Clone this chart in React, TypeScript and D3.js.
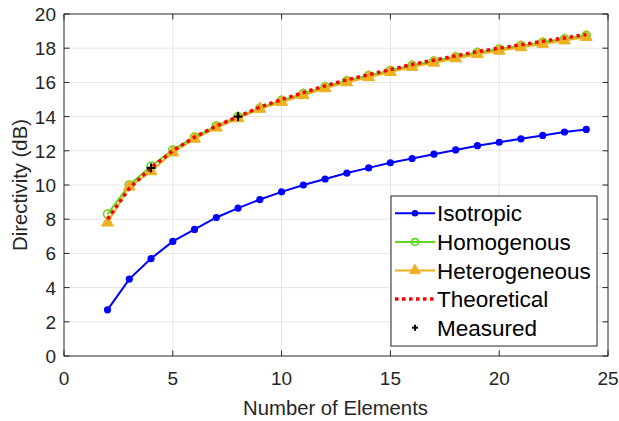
import React from "react";
import * as d3 from "d3";

// Number of array elements
const elements = [2, 3, 4, 5, 6, 7, 8, 9, 10, 11, 12, 13, 14, 15, 16, 17, 18, 19, 20, 21, 22, 23, 24];

// Directivity (dB) per configuration
const isotropic = [2.7, 4.5, 5.7, 6.7, 7.4, 8.1, 8.65, 9.15, 9.6, 10.0, 10.35, 10.7, 11.0, 11.3, 11.55, 11.8, 12.05, 12.3, 12.5, 12.7, 12.9, 13.1, 13.25];
const homogenous = [8.3, 10.0, 11.1, 12.05, 12.8, 13.45, 14.0, 14.5, 14.95, 15.35, 15.75, 16.1, 16.4, 16.7, 17.0, 17.25, 17.5, 17.75, 17.95, 18.15, 18.35, 18.55, 18.75];
const heterogeneous = [7.8, 9.9, 10.8, 11.9, 12.7, 13.35, 13.9, 14.45, 14.85, 15.25, 15.65, 16.0, 16.3, 16.6, 16.9, 17.15, 17.4, 17.65, 17.85, 18.05, 18.25, 18.45, 18.65];
const theoretical = [8.0, 9.8, 11.0, 12.0, 12.8, 13.45, 14.0, 14.55, 15.0, 15.4, 15.8, 16.15, 16.45, 16.75, 17.05, 17.3, 17.55, 17.8, 18.0, 18.2, 18.4, 18.6, 18.8];

// Measured points
const measuredN = [4, 8];
const measuredD = [11.0, 14.0];

const xTicks = [0, 5, 10, 15, 20, 25];
const yTicks = [0, 2, 4, 6, 8, 10, 12, 14, 16, 18, 20];

const legendLabels = ["Isotropic", "Homogenous", "Heterogeneous", "Theoretical", "Measured"];

const W = 619;
const H = 421;
const M = { left: 64, right: 11, top: 14, bottom: 65 };

const BLUE = "#0000ff";
const GREEN = "#5fd81e";
const ORANGE = "#edb120";
const RED = "#ff0000";
const AXIS = "#262626";
const FONT = "'Liberation Sans', Arial, sans-serif";

export default function App() {
  const x = d3.scaleLinear().domain([0, 25]).range([M.left, W - M.right]);
  const y = d3.scaleLinear().domain([0, 20]).range([H - M.bottom, M.top]);
  const x0 = M.left, x1 = W - M.right, y0 = H - M.bottom, y1 = M.top;

  const line = d3
    .line<number>()
    .x((_, i) => x(elements[i]))
    .y((d) => y(d));

  const tri = d3.symbol().type(d3.symbolTriangle).size(60)() as string;
  const triSmall = d3.symbol().type(d3.symbolTriangle).size(50)() as string;
  const tickLen = 5.5;

  const legX = 391, legY = 196, legW = 206, legH = 150;
  const rowY = (i: number) => 213.3 + i * 28.6;
  const sx0 = 395, sx1 = 435, sxm = 415;

  return (
    <svg width={W} height={H} style={{ position: "absolute", left: 0, top: 0, background: "#fff" }} fontFamily={FONT}>
      {/* grid */}
      <g stroke="#e6e6e6" strokeWidth={1}>
        {xTicks.slice(1, -1).map((t) => (
          <line key={"gx" + t} x1={x(t)} x2={x(t)} y1={y0} y2={y1} />
        ))}
        {yTicks.slice(1, -1).map((t) => (
          <line key={"gy" + t} x1={x0} x2={x1} y1={y(t)} y2={y(t)} />
        ))}
      </g>

      {/* series */}
      <path d={line(isotropic) || ""} fill="none" stroke={BLUE} strokeWidth={2} />
      {isotropic.map((v, i) => (
        <circle key={"i" + i} cx={x(elements[i])} cy={y(v)} r={3.6} fill={BLUE} />
      ))}

      <path d={line(homogenous) || ""} fill="none" stroke={GREEN} strokeWidth={2} />
      {homogenous.map((v, i) => (
        <circle key={"h" + i} cx={x(elements[i])} cy={y(v)} r={4} fill="none" stroke={GREEN} strokeWidth={1.6} />
      ))}

      <path d={line(heterogeneous) || ""} fill="none" stroke={ORANGE} strokeWidth={2} />
      {heterogeneous.map((v, i) => (
        <path key={"t" + i} d={tri} transform={`translate(${x(elements[i])},${y(v)})`} fill={ORANGE} stroke={ORANGE} strokeWidth={1} />
      ))}

      <path d={line(theoretical) || ""} fill="none" stroke={RED} strokeWidth={3.5} strokeDasharray="3.5 3.5" />

      {measuredN.map((n, i) => (
        <g key={"m" + i} stroke="#000" strokeWidth={2}>
          <line x1={x(n) - 4.5} x2={x(n) + 4.5} y1={y(measuredD[i])} y2={y(measuredD[i])} />
          <line x1={x(n)} x2={x(n)} y1={y(measuredD[i]) - 4.5} y2={y(measuredD[i]) + 4.5} />
        </g>
      ))}

      {/* axes box and ticks */}
      <g stroke={AXIS} strokeWidth={1} fill="none">
        <rect x={x0} y={y1} width={x1 - x0} height={y0 - y1} stroke="#262626" />
        {xTicks.map((t) => (
          <g key={"tx" + t}>
            <line x1={x(t)} x2={x(t)} y1={y0} y2={y0 - tickLen} />
            <line x1={x(t)} x2={x(t)} y1={y1} y2={y1 + tickLen} />
          </g>
        ))}
        {yTicks.map((t) => (
          <g key={"ty" + t}>
            <line x1={x0} x2={x0 + tickLen} y1={y(t)} y2={y(t)} />
            <line x1={x1} x2={x1 - tickLen} y1={y(t)} y2={y(t)} />
          </g>
        ))}
      </g>

      <g fill={AXIS} fontSize={19}>
        {xTicks.map((t) => (
          <text key={"lx" + t} x={x(t)} y={y0 + 28.5} textAnchor="middle">{t}</text>
        ))}
        {yTicks.map((t) => (
          <text key={"ly" + t} x={x0 - 8} y={y(t) + 7} textAnchor="end">{t}</text>
        ))}
      </g>
      <text x={(x0 + x1) / 2 - 0.5} y={415} textAnchor="middle" fontSize={20.3} fill={AXIS}>Number of Elements</text>
      <text transform={`translate(27,${(y0 + y1) / 2}) rotate(-90)`} textAnchor="middle" fontSize={20.3} fill={AXIS}>Directivity (dB)</text>

      {/* legend */}
      <rect x={legX} y={legY} width={legW} height={legH} fill="#fff" stroke="#262626" strokeWidth={1} />
      <g>
        <line x1={sx0} x2={sx1} y1={rowY(0)} y2={rowY(0)} stroke={BLUE} strokeWidth={2} />
        <circle cx={sxm} cy={rowY(0)} r={3.3} fill={BLUE} />
        <line x1={sx0} x2={sx1} y1={rowY(1)} y2={rowY(1)} stroke={GREEN} strokeWidth={2} />
        <circle cx={sxm} cy={rowY(1)} r={3.3} fill="none" stroke={GREEN} strokeWidth={1.6} />
        <line x1={sx0} x2={sx1} y1={rowY(2)} y2={rowY(2)} stroke={ORANGE} strokeWidth={2} />
        <path d={triSmall} transform={`translate(${sxm},${rowY(2)})`} fill={ORANGE} stroke={ORANGE} />
        <line x1={sx0} x2={sx1} y1={rowY(3)} y2={rowY(3)} stroke={RED} strokeWidth={3.5} strokeDasharray="3.5 3.5" />
        <g stroke="#000" strokeWidth={2}>
          <line x1={sxm - 3} x2={sxm + 3} y1={rowY(4)} y2={rowY(4)} />
          <line x1={sxm} x2={sxm} y1={rowY(4) - 3} y2={rowY(4) + 3} />
        </g>
        {legendLabels.map((l, i) => (
          <text key={l} x={437} y={rowY(i) + 8} fontSize={22.5} fill="#000">{l}</text>
        ))}
      </g>
    </svg>
  );
}
